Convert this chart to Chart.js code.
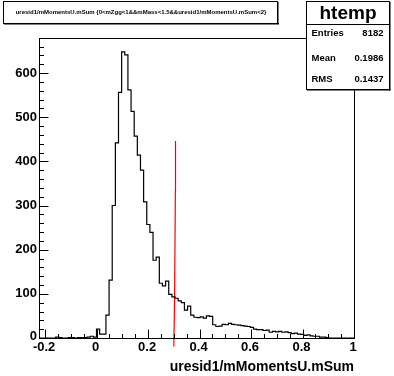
<!DOCTYPE html>
<html>
<head>
<meta charset="utf-8">
<script src="https://cdn.jsdelivr.net/npm/chart.js@4.4.1/dist/chart.umd.min.js"></script>
<style>
  html, body { margin: 0; padding: 0; background: #fff; }
  #wrap { position: relative; width: 394px; height: 376px; }
</style>
</head>
<body>
<div id="wrap"><canvas id="histo" width="394" height="376"></canvas></div>
<script>
// histogram htemp: 100 bins
const xMin = -0.22;
const xMax = 1.0;
const binWidth = 0.0122;
const yMax = 677;
const binCounts = [
    0, 0, 0, 0, 0, 2, 1, 0, 0, 1,
    1, 0, 1, 1, 1, 2, 4, 2, 20, 9,
    9, 52, 131, 300, 442, 556, 648, 641, 562, 513,
    457, 414, 380, 308, 257, 239, 176, 183, 124, 118,
    129, 99, 93, 90, 84, 80, 63, 72, 52, 47,
    46, 48, 45, 50, 49, 30, 26, 27, 31, 30,
    33, 31, 30, 29, 28, 27, 26, 24, 20, 19,
    19, 17, 18, 13, 15, 14, 15, 13, 14, 12,
    10, 11, 9, 8, 6, 7, 5, 4, 4, 2,
    2, 1, 0, 0, 0, 0, 0, 0, 0, 0
];
const cutX = [0.300, 0.303, 0.306, 0.3065];
const cutY = [-19, 97, 333, 446];

const xTicks = [-0.2, 0, 0.2, 0.4, 0.6, 0.8, 1];
const xTickLabels = ['-0.2', '0', '0.2', '0.4', '0.6', '0.8', '1'];
const xMinorStep = 0.05;
const yTicks = [0, 100, 200, 300, 400, 500, 600];
const yTickLabels = ['0', '100', '200', '300', '400', '500', '600'];
const yMinorStep = 20;

const histTitle = 'uresid1/mMomentsU.mSum {0<mZgg<1&&mMass<1.5&&uresid1/mMomentsU.mSum<2}';
const xTitle = 'uresid1/mMomentsU.mSum';
const statsName = 'htemp';
const statsRows = [['Entries', '8182'], ['Mean', '0.1986'], ['RMS', '0.1437']];

// step outline: one point per bin edge
const histPoints = binCounts.map((c, i) => ({ x: xMin + i * binWidth, y: c }));
histPoints.push({ x: xMin + binCounts.length * binWidth, y: binCounts[binCounts.length - 1] });

const FONT = '"Liberation Sans", Arial, Helvetica, sans-serif';

// ROOT style frame, inward ticks, labels, title and stats box
const rootDecor = {
    id: 'rootDecor',
    afterDraw(chart) {
        const ctx = chart.ctx;
        const a = chart.chartArea;
        const xs = chart.scales.x;
        const ys = chart.scales.y;
        ctx.save();
        ctx.strokeStyle = '#000';
        ctx.fillStyle = '#000';
        ctx.lineWidth = 1;

        // frame
        ctx.strokeRect(Math.round(a.left) - 0.5, Math.round(a.top) - 0.5,
            Math.round(a.right - a.left) + 1, Math.round(a.bottom - a.top) + 1);

        const bottom = Math.round(a.bottom) + 0.5;
        const left = Math.round(a.left) - 0.5;
        ctx.beginPath();
        // x ticks
        for (let v = xTicks[0]; v <= xMax + 1e-9; v += xMinorStep) {
            const px = Math.round(xs.getPixelForValue(v)) + 0.5;
            const major = xTicks.some(t => Math.abs(t - v) < 1e-6);
            ctx.moveTo(px, bottom);
            ctx.lineTo(px, bottom - (major ? 9 : 4.5));
        }
        // y ticks
        for (let v = 0; v <= yMax; v += yMinorStep) {
            const py = Math.round(ys.getPixelForValue(v)) + 0.5;
            const major = v % 100 === 0;
            ctx.moveTo(left, py);
            ctx.lineTo(left + (major ? 9 : 4.5), py);
        }
        ctx.stroke();

        // tick labels
        ctx.font = 'bold 13px ' + FONT;
        ctx.textAlign = 'center';
        ctx.textBaseline = 'middle';
        xTicks.forEach((v, i) => {
            ctx.fillText(xTickLabels[i], xs.getPixelForValue(v) - 1, a.bottom + 9);
        });
        ctx.textAlign = 'right';
        yTicks.forEach((v, i) => {
            const off = v === 0 ? -2 : 0;
            ctx.fillText(yTickLabels[i], a.left - 3, ys.getPixelForValue(v) + off);
        });

        // axis title
        ctx.font = 'bold 14px ' + FONT;
        ctx.textBaseline = 'alphabetic';
        ctx.fillText(xTitle, a.right, 371);

        // title box
        ctx.fillStyle = '#fff';
        ctx.fillRect(3.5, 1.5, 274, 22);
        ctx.fillStyle = '#000';
        ctx.fillRect(4, 23, 275, 1.5);
        ctx.fillRect(277, 2, 1.5, 22);
        ctx.strokeRect(3.5, 1.5, 274, 22);
        ctx.font = 'bold 6px ' + FONT;
        ctx.textAlign = 'center';
        ctx.textBaseline = 'middle';
        ctx.fillText(histTitle, 141, 12.8);

        // stats box
        ctx.fillStyle = '#fff';
        ctx.fillRect(306.5, 1.5, 83, 88);
        ctx.fillStyle = '#000';
        ctx.fillRect(389, 2, 1.5, 88.5);
        ctx.fillRect(307, 89, 83.5, 1.5);
        ctx.strokeRect(306.5, 1.5, 83, 88);
        ctx.beginPath();
        ctx.moveTo(306.5, 24.5);
        ctx.lineTo(389.5, 24.5);
        ctx.stroke();
        ctx.font = 'bold 19px ' + FONT;
        ctx.fillText(statsName, 348, 13.5);
        const rowY = [33.7, 58.3, 79.7];
        ctx.font = 'bold 9.5px ' + FONT;
        statsRows.forEach((r, i) => {
            ctx.textAlign = 'left';
            ctx.fillText(r[0], 311.5, rowY[i]);
            ctx.textAlign = 'right';
            ctx.fillText(r[1], 383.5, rowY[i]);
        });
        ctx.restore();
    }
};

const chart = new Chart(document.getElementById('histo'), {
    type: 'line',
    data: {
        datasets: [{
            label: 'htemp',
            data: histPoints,
            stepped: 'before',
            borderColor: '#000',
            borderWidth: 1.2,
            pointRadius: 0,
            fill: false
        }, {
            label: 'cut',
            data: cutX.map((x, i) => ({ x: x, y: cutY[i] })),
            borderColor: '#ff0000',
            borderWidth: 1.2,
            pointRadius: 0,
            fill: false,
            clip: false
        }]
    },
    options: {
        responsive: false,
        animation: false,
        devicePixelRatio: 1,
        layout: { padding: { left: 40, right: 40, top: 39, bottom: 38 } },
        plugins: {
            legend: { display: false },
            tooltip: { enabled: false },
            title: { display: false }
        },
        scales: {
            x: { type: 'linear', min: xMin, max: xMax, display: false },
            y: { type: 'linear', min: 0, max: yMax, display: false }
        }
    },
    plugins: [rootDecor]
});
</script>
</body>
</html>
